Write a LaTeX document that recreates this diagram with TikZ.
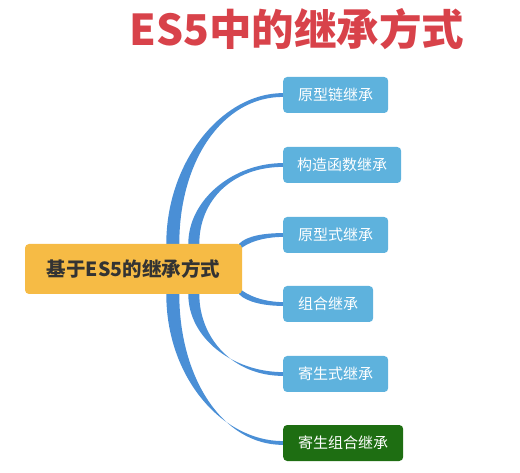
\documentclass[tikz,border=0pt]{standalone}
\usepackage{fontspec}
\setmainfont{Noto Sans CJK SC}
\usetikzlibrary{calc,backgrounds}
\definecolor{titlered}{HTML}{D8424A}
\definecolor{rootfill}{HTML}{F6BB45}
\definecolor{childblue}{HTML}{5EB2DD}
\definecolor{childgreen}{HTML}{1E6E12}
\definecolor{branchblue}{HTML}{4A8FD6}
\definecolor{roottext}{HTML}{333333}
\newcommand\mmbranch[6]{%
  \fill[branch] ($(#1)+(#5)$) .. controls ($(#1)+(#3)+(#5)$) and ($(#2)+(#4)+(#6)$) .. ($(#2)+(#6)$)
    -- ($(#2)-(#6)$) .. controls ($(#2)+(#4)-(#6)$) and ($(#1)+(#3)-(#5)$) .. ($(#1)-(#5)$) -- cycle;}
\tikzset{
  rootbox/.style={fill=rootfill, rounded corners=4pt, minimum width=217pt, minimum height=50pt,
    inner sep=0pt, text=roottext, font=\fontsize{19.5}{22}\selectfont\bfseries},
  childbox/.style={fill=childblue, rounded corners=4pt, minimum height=36pt, inner sep=0pt,
    anchor=west, text=white, font=\fontsize{15}{17}\selectfont},
  greenbox/.style={childbox, fill=childgreen},
  branch/.style={fill=branchblue},
  titletext/.style={text=titlered, font=\fontsize{42.5}{46}\selectfont\bfseries, inner sep=0pt}
}
\begin{document}
\begin{tikzpicture}[x=1pt,y=-1pt]
\useasboundingbox (0,0) rectangle (520,473);
\node[titletext] (title) at (297,29) {ES5中的继承方式};
\node[rootbox] (root) at (133.5,269) {基于ES5的继承方式};
\node[childbox, minimum width=105pt] (c1) at (283,95) {原型链继承};
\node[childbox, minimum width=118pt] (c2) at (283,165) {构造函数继承};
\node[childbox, minimum width=105pt] (c3) at (283,235) {原型式继承};
\node[childbox, minimum width=90pt] (c4) at (283,304) {组合继承};
\node[childbox, minimum width=105pt] (c5) at (283,374) {寄生式继承};
\node[greenbox, minimum width=120pt] (c6) at (283,443) {寄生组合继承};
\coordinate (s1) at ($(root.north west)+(148,0)$);
\coordinate (s2) at ($(root.north west)+(169,0)$);
\coordinate (s3) at ($(root.north east)+(-3,3)$);
\coordinate (s4) at ($(root.south east)+(-3,-3)$);
\coordinate (s5) at ($(root.south west)+(169,0)$);
\coordinate (s6) at ($(root.south west)+(148,0)$);
\begin{scope}[on background layer]
\mmbranch{s1}{c1.west}{0,-82}{-61,0}{6.5,0}{0,1.9}
\mmbranch{s2}{c2.west}{0,-44}{-50,0}{5.5,0}{0,1.9}
\mmbranch{s3}{c3.west}{8,-8}{-18,0}{0,3.2}{0,1.9}
\mmbranch{s4}{c4.west}{8,8}{-18,0}{0,3.2}{0,1.9}
\mmbranch{s5}{c5.west}{0,44}{-50,0}{5.5,0}{0,1.9}
\mmbranch{s6}{c6.west}{0,83}{-61,0}{6.5,0}{0,1.9}
\end{scope}
\end{tikzpicture}
\end{document}
